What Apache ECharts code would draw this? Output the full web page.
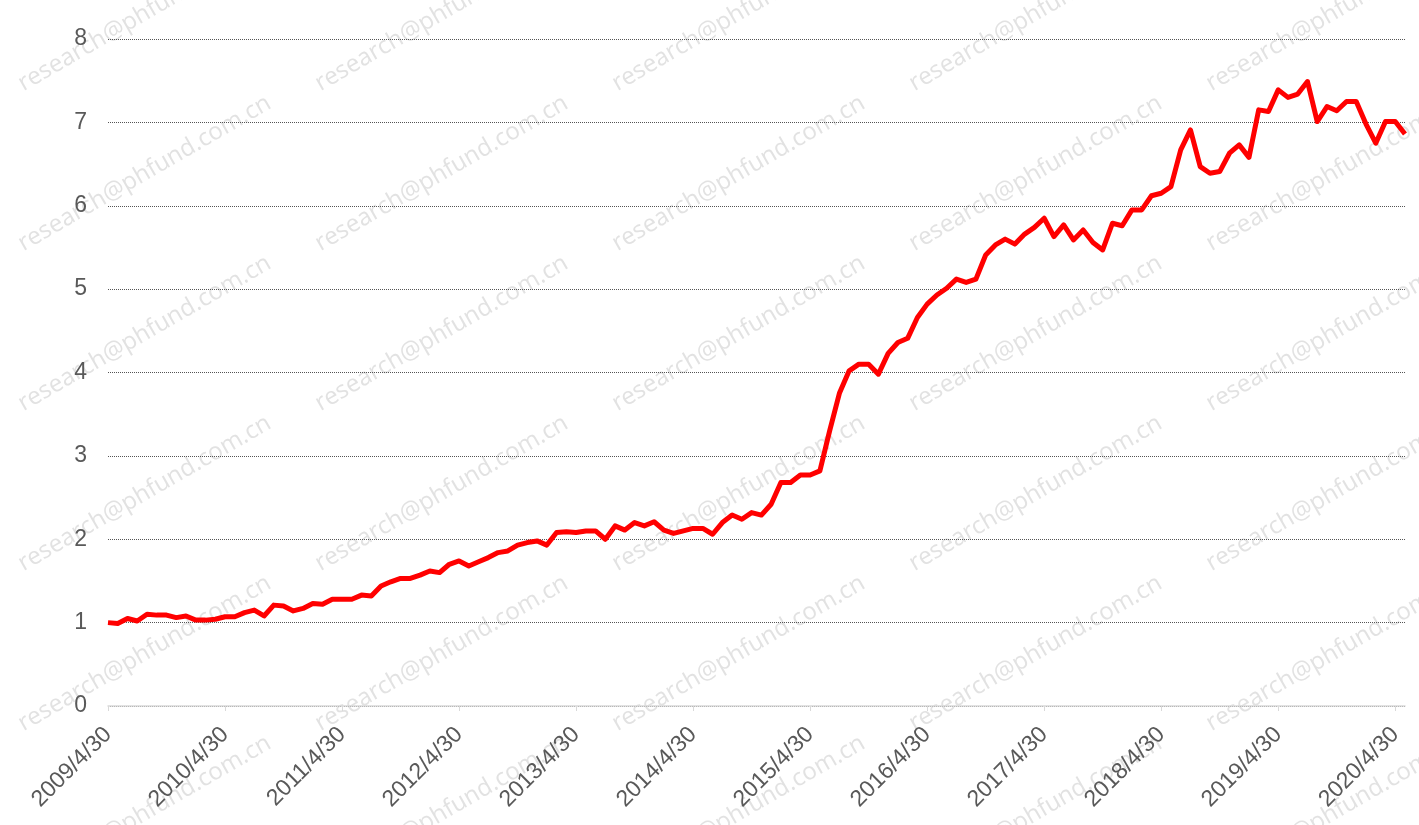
<!DOCTYPE html>
<html>
<head>
<meta charset="utf-8">
<script src="https://cdn.jsdelivr.net/npm/echarts@6/dist/echarts.min.js"></script>
<style>
    html, body { margin: 0; padding: 0; background: #fff; }
    #chart { width: 1419px; height: 825px; }
</style>
</head>
<body>
<div id="chart"></div>
<script>
    // 净值序列，月末数据 2009/4/30 - 2020/5/31
    var startYear = 2009, startMonth = 4;
    var navValues = [
        1.00, 0.99, 1.05, 1.02, 1.10, 1.09, 1.09, 1.06, 1.08, 1.03, 1.03, 1.04,
        1.07, 1.07, 1.12, 1.15, 1.08, 1.21, 1.20, 1.14, 1.17, 1.23, 1.22, 1.28,
        1.28, 1.28, 1.33, 1.32, 1.44, 1.49, 1.53, 1.53, 1.57, 1.62, 1.60, 1.70,
        1.74, 1.68, 1.73, 1.78, 1.84, 1.86, 1.93, 1.96, 1.98, 1.93, 2.08, 2.09,
        2.08, 2.10, 2.10, 2.00, 2.16, 2.11, 2.20, 2.16, 2.21, 2.11, 2.07, 2.10,
        2.13, 2.13, 2.06, 2.20, 2.29, 2.24, 2.32, 2.29, 2.42, 2.68, 2.68, 2.77,
        2.77, 2.82, 3.30, 3.75, 4.02, 4.10, 4.10, 3.98, 4.23, 4.36, 4.41, 4.66,
        4.82, 4.93, 5.01, 5.12, 5.08, 5.12, 5.41, 5.53, 5.60, 5.54, 5.66, 5.74,
        5.85, 5.63, 5.77, 5.59, 5.71, 5.56, 5.47, 5.79, 5.76, 5.95, 5.95, 6.12,
        6.15, 6.23, 6.67, 6.91, 6.47, 6.39, 6.41, 6.63, 6.73, 6.58, 7.15, 7.13,
        7.39, 7.30, 7.34, 7.49, 7.01, 7.19, 7.14, 7.25, 7.25, 6.98, 6.75, 7.01,
        7.01, 6.86
    ];
    var yTicks = [0, 1, 2, 3, 4, 5, 6, 7, 8];
    var watermarkText = 'research@phfund.com.cn';

    // 月末日期作为类目
    var categories = [];
    for (var k = 0; k < navValues.length; k++) {
        var m = startMonth - 1 + k;
        var y = startYear + Math.floor(m / 12);
        var mon = m % 12 + 1;
        var lastDay = new Date(y, mon, 0).getDate();
        categories.push(y + '/' + mon + '/' + lastDay);
    }

    // 水印
    var marks = [];
    for (var c = 0; c < 5; c++) {
        for (var r = -1; r < 6; r++) {
            marks.push({
                type: 'text',
                x: 14 + c * 297,
                y: 75 + r * 160,
                rotation: Math.PI / 6,
                silent: true,
                z: 0,
                style: {
                    text: watermarkText,
                    fill: '#e2e2e2',
                    font: '24px "Open Sans"',
                    textBaseline: 'alphabetic',
                    textAlign: 'left'
                }
            });
        }
    }

    var chart = echarts.init(document.getElementById('chart'));
    var option = {
        animation: false,
        backgroundColor: '#fff',
        graphic: marks,
        grid: {
            left: 108,
            right: 14,
            top: 39,
            bottom: 119,
            containLabel: false
        },
        xAxis: {
            type: 'category',
            boundaryGap: false,
            data: categories,
            axisLine: { lineStyle: { color: '#d9d9d9', width: 1.5 } },
            axisTick: { interval: 11, length: 5, lineStyle: { color: '#d9d9d9' } },
            axisLabel: {
                interval: 11,
                rotate: 45,
                margin: 25,
                color: '#595959',
                fontSize: 23,
                fontFamily: 'Liberation Sans'
            },
            splitLine: { show: false }
        },
        yAxis: {
            type: 'value',
            min: yTicks[0],
            max: yTicks[yTicks.length - 1],
            interval: 1,
            axisLine: { show: false },
            axisTick: { show: false },
            axisLabel: {
                margin: 21,
                color: '#595959',
                fontSize: 23,
                fontFamily: 'Liberation Sans'
            },
            splitLine: { lineStyle: { color: '#555', type: 'dotted', width: 1 } }
        },
        series: [{
            type: 'line',
            data: navValues,
            showSymbol: false,
            z: 3,
            lineStyle: { color: '#ff0000', width: 5, join: 'round' }
        }]
    };
    chart.setOption(option);
</script>
</body>
</html>
